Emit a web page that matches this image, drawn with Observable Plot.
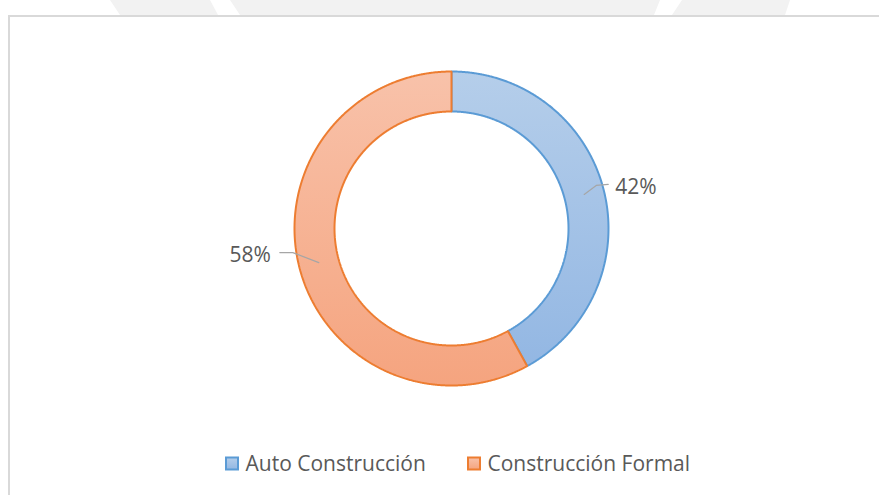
<!DOCTYPE html>
<html><head><meta charset="utf-8">
<script src="https://cdn.jsdelivr.net/npm/d3@7"></script>
<script src="https://cdn.jsdelivr.net/npm/@observablehq/plot@0.6"></script>
<style>
body{margin:0;background:#fff;}
#wrap{position:relative;width:879px;height:495px;overflow:hidden;background:#fff;}
#bg{position:absolute;left:0;top:0;}
#frame{position:absolute;left:8px;top:15px;width:900px;height:520px;border:2.5px solid #d9d9d9;box-sizing:border-box;background:#fff;}
#chart{position:absolute;left:0;top:0;}
</style></head>
<body><div id="wrap">
<svg id="bg" width="879" height="495">
  <g fill="#f2f2f2">
    <polygon points="110,0 210,0 218,15 120,15"/>
    <polygon points="230,0 660,0 654,15 240,15"/>
    <polygon points="682,0 790,0 785,15 672,15"/>
  </g>
</svg>
<div id="frame"></div>
<div id="chart"></div>
</div>
<script>
// ---- data ----
const categories = ["Auto Construcción", "Construcción Formal"];
const values = [42, 58];
const valueLabels = ["42%", "58%"];

// ---- style / layout ----
const fillIds = ["gBlue", "gOrange"];
const strokes = ["#5b9bd5", "#ed7d31"];
const cx = 451, cy = 228, R = 157, r0 = 117;
const leaderOffsets = [[[12, -9], [24, -10]], [[-26, -10], [-39, -10]]];
const labelGap = [7, -9];

const table = categories.map((c, i) => ({category: c, value: values[i], label: valueLabels[i]}));
const pie = d3.pie().sort(null).value(d => d.value)(table);
const pt = (a, rad) => [cx + rad * Math.sin(a), cy - rad * Math.cos(a)];

const marks = [];
pie.forEach((s, i) => {
  const n = Math.max(8, Math.ceil((s.endAngle - s.startAngle) / 0.005));
  const pts = [];
  for (let k = 0; k <= n; k++) {
    const a = s.startAngle + (s.endAngle - s.startAngle) * k / n;
    const [x, y] = pt(a, R); pts.push({x, y});
  }
  for (let k = n; k >= 0; k--) {
    const a = s.startAngle + (s.endAngle - s.startAngle) * k / n;
    const [x, y] = pt(a, r0); pts.push({x, y});
  }
  marks.push(Plot.line(pts, {x: "x", y: "y", curve: "linear-closed",
    fill: `url(#${fillIds[i]})`, stroke: strokes[i], strokeWidth: 2, strokeLinejoin: "miter"}));
});

// leader lines and labels
pie.forEach((s, i) => {
  const mid = (s.startAngle + s.endAngle) / 2;
  const [ax, ay] = pt(mid, (R + r0) / 2);
  const [o1, o2] = leaderOffsets[i];
  const lp = [{x: ax, y: ay}, {x: ax + o1[0], y: ay + o1[1]}, {x: ax + o2[0], y: ay + o2[1]}];
  marks.push(Plot.line(lp, {x: "x", y: "y", stroke: "#a6a6a6", strokeWidth: 1.2}));
  marks.push(Plot.text([s.data], {x: () => ax + o2[0] + labelGap[i], y: () => ay + o2[1] + 2.5,
    text: "label", textAnchor: labelGap[i] > 0 ? "start" : "end", fontSize: 21, fill: "#595959"}));
});

// legend
const legendX = [225, 467], legendY = 463.5, sq = 12;
marks.push(Plot.rect(table, {x1: (d, i) => legendX[i] + 1, x2: (d, i) => legendX[i] + 1 + sq,
  y1: legendY - sq / 2, y2: legendY + sq / 2,
  fill: (d, i) => `url(#${fillIds[i]})`, stroke: (d, i) => strokes[i], strokeWidth: 2}));
marks.push(Plot.text(table, {x: (d, i) => legendX[i] + 20, y: legendY, text: "category",
  textAnchor: "start", fontSize: 21, fill: "#595959"}));

const plot = Plot.plot({
  width: 879, height: 495, margin: 0,
  x: {type: "identity", axis: null},
  y: {type: "identity", axis: null},
  color: {type: "identity"},
  style: {background: "transparent", fontFamily: "'Open Sans', sans-serif", overflow: "visible"},
  marks
});

const defs = d3.select(plot).insert("defs", ":first-child");
const grads = [["gBlue", "#b5ceea", "#93b7e3"], ["gOrange", "#f8c2aa", "#f5a47f"]];
grads.forEach(([id, c1, c2]) => {
  const g = defs.append("linearGradient").attr("id", id).attr("x1", 0).attr("y1", 0).attr("x2", 0).attr("y2", 1);
  g.append("stop").attr("offset", "0%").attr("stop-color", c1);
  g.append("stop").attr("offset", "100%").attr("stop-color", c2);
});
document.getElementById("chart").appendChild(plot);
</script>
</body></html>
